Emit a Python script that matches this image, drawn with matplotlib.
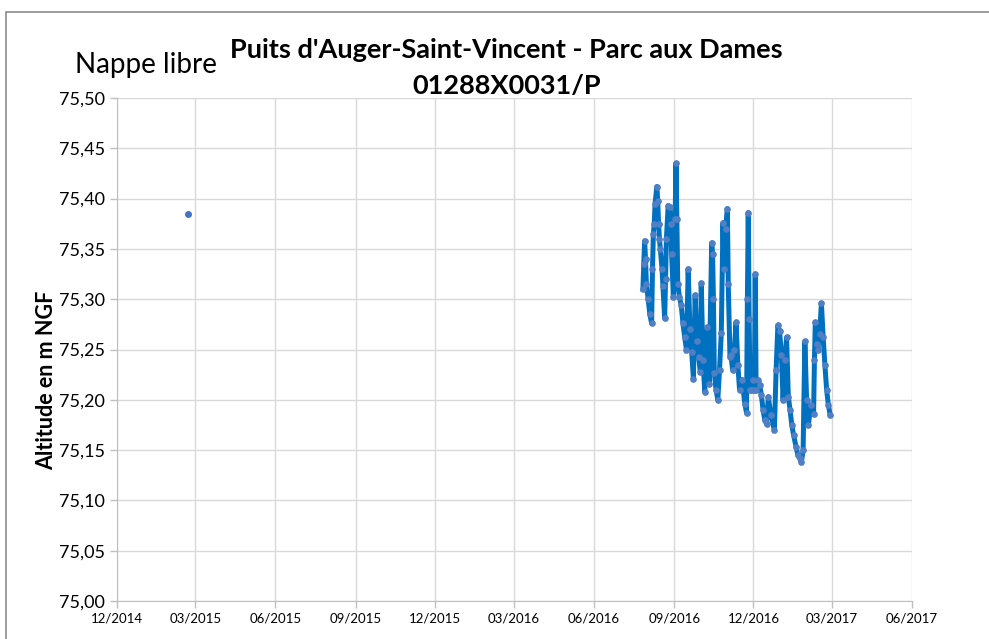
import matplotlib
matplotlib.use("Agg")
import matplotlib.pyplot as plt
import matplotlib.dates as mdates
from matplotlib.patches import Rectangle
from matplotlib.ticker import FuncFormatter
import pandas as pd

# isolated early reading
early_date = ["2015-02-20"]
early_level = [75.385]

# continuous record (m NGF)
dates = [
    "2016-07-27", "2016-07-28", "2016-07-29", "2016-07-30", "2016-07-31", "2016-08-02",
    "2016-08-04", "2016-08-06", "2016-08-07", "2016-08-08", "2016-08-09", "2016-08-10",
    "2016-08-12", "2016-08-13", "2016-08-14", "2016-08-15", "2016-08-16", "2016-08-18",
    "2016-08-19", "2016-08-21", "2016-08-22", "2016-08-23", "2016-08-25", "2016-08-27",
    "2016-08-28", "2016-08-29", "2016-08-31", "2016-09-02", "2016-09-03", "2016-09-04",
    "2016-09-05", "2016-09-07", "2016-09-09", "2016-09-11", "2016-09-13", "2016-09-15",
    "2016-09-17", "2016-09-19", "2016-09-21", "2016-09-23", "2016-09-25", "2016-09-27",
    "2016-09-29", "2016-10-01", "2016-10-02", "2016-10-04", "2016-10-06", "2016-10-09",
    "2016-10-11", "2016-10-14", "2016-10-15", "2016-10-16", "2016-10-17", "2016-10-19",
    "2016-10-21", "2016-10-23", "2016-10-25", "2016-10-27", "2016-10-28", "2016-10-30",
    "2016-11-01", "2016-11-02", "2016-11-04", "2016-11-05", "2016-11-07", "2016-11-09",
    "2016-11-11", "2016-11-13", "2016-11-15", "2016-11-18", "2016-11-21", "2016-11-23",
    "2016-11-24", "2016-11-25", "2016-11-26", "2016-11-27", "2016-11-29", "2016-12-01",
    "2016-12-02", "2016-12-03", "2016-12-04", "2016-12-06", "2016-12-08", "2016-12-10",
    "2016-12-12", "2016-12-14", "2016-12-16", "2016-12-18", "2016-12-21", "2016-12-25",
    "2016-12-27", "2016-12-29", "2016-12-31", "2017-01-02", "2017-01-04", "2017-01-06",
    "2017-01-08", "2017-01-10", "2017-01-12", "2017-01-14", "2017-01-16", "2017-01-19",
    "2017-01-21", "2017-01-23", "2017-01-25", "2017-01-27", "2017-01-29", "2017-01-31",
    "2017-02-02", "2017-02-05", "2017-02-08", "2017-02-09", "2017-02-10", "2017-02-12",
    "2017-02-13", "2017-02-15", "2017-02-17", "2017-02-19", "2017-02-21", "2017-02-23",
    "2017-02-25", "2017-02-27",
]
levels = [
    75.310, 75.335, 75.358, 75.340, 75.315, 75.300,
    75.285, 75.276, 75.330, 75.365, 75.375, 75.395,
    75.412, 75.398, 75.375, 75.360, 75.350, 75.330,
    75.313, 75.281, 75.320, 75.360, 75.393, 75.392,
    75.375, 75.345, 75.302, 75.380, 75.435, 75.380,
    75.315, 75.302, 75.294, 75.276, 75.262, 75.250,
    75.330, 75.270, 75.248, 75.221, 75.304, 75.258,
    75.243, 75.228, 75.316, 75.240, 75.208, 75.272,
    75.216, 75.356, 75.345, 75.300, 75.227, 75.210,
    75.200, 75.230, 75.266, 75.376, 75.330, 75.370,
    75.390, 75.315, 75.243, 75.245, 75.230, 75.250,
    75.277, 75.235, 75.210, 75.220, 75.196, 75.187,
    75.300, 75.386, 75.280, 75.210, 75.210, 75.220,
    75.210, 75.325, 75.210, 75.220, 75.215, 75.205,
    75.190, 75.180, 75.176, 75.203, 75.185, 75.170,
    75.230, 75.274, 75.268, 75.245, 75.200, 75.240,
    75.262, 75.203, 75.190, 75.175, 75.165, 75.153,
    75.145, 75.142, 75.138, 75.150, 75.258, 75.200,
    75.175, 75.195, 75.186, 75.240, 75.277, 75.255,
    75.250, 75.265, 75.296, 75.262, 75.235, 75.210,
    75.195, 75.185,
]

plt.rcParams["font.family"] = ["Lato", "DejaVu Sans"]

fig = plt.figure(figsize=(9.89, 6.39), dpi=100)
ax = fig.add_axes([0.1183, 0.0595, 0.8038, 0.7871])

# chart frame (Excel-like border)
fig.patches.append(Rectangle((6 / 989, -0.05), 1.2, 1 - 12 / 639 + 0.05,
                             transform=fig.transFigure, fill=False,
                             edgecolor="#8c8c8c", linewidth=1.2))

ax.plot(pd.to_datetime(dates), levels, color="#0070C0", linewidth=3.6,
        marker="o", markersize=3.8, markerfacecolor="#4F7FC4",
        markeredgecolor="#4F7FC4", zorder=3)
ax.plot(pd.to_datetime(early_date), early_level, linestyle="none", marker="o",
        markersize=4, color="#4472C4", zorder=3)

ax.set_xlim(pd.Timestamp("2014-12-01"), pd.Timestamp("2017-06-01"))
ax.set_ylim(75.0, 75.5)
ax.set_yticks([75.0 + 0.05 * i for i in range(11)])
ax.yaxis.set_major_formatter(FuncFormatter(lambda v, p: f"{v:.2f}".replace(".", ",")))
ax.xaxis.set_major_locator(mdates.MonthLocator(bymonth=[3, 6, 9, 12]))
ax.xaxis.set_major_formatter(mdates.DateFormatter("%m/%Y"))

ax.grid(True, color="#d9d9d9", linewidth=1)
ax.set_axisbelow(True)
for s in ["top", "right"]:
    ax.spines[s].set_visible(False)
for s in ["left", "bottom"]:
    ax.spines[s].set_color("#bfbfbf")
ax.tick_params(axis="both", colors="#bfbfbf", length=5, width=1)
for lab in ax.get_yticklabels():
    lab.set_color("black")
    lab.set_fontsize(13)
for lab in ax.get_xticklabels():
    lab.set_color("black")
    lab.set_fontsize(9.5)

fig.text(0.512, 0.921, "Puits d'Auger-Saint-Vincent - Parc aux Dames", ha="center",
         va="center", fontsize=19.5, fontweight="bold")
fig.text(0.512, 0.865, "01288X0031/P", ha="center", va="center", fontsize=19.5,
         fontweight="bold")
fig.text(0.0758, 0.898, "Nappe libre", ha="left", va="center", fontsize=20)
fig.text(0.047, 0.405, "Altitude en m NGF", ha="center", va="center", rotation=90,
         fontsize=15.5, fontweight="bold")

fig.savefig("out.png", dpi=100)
